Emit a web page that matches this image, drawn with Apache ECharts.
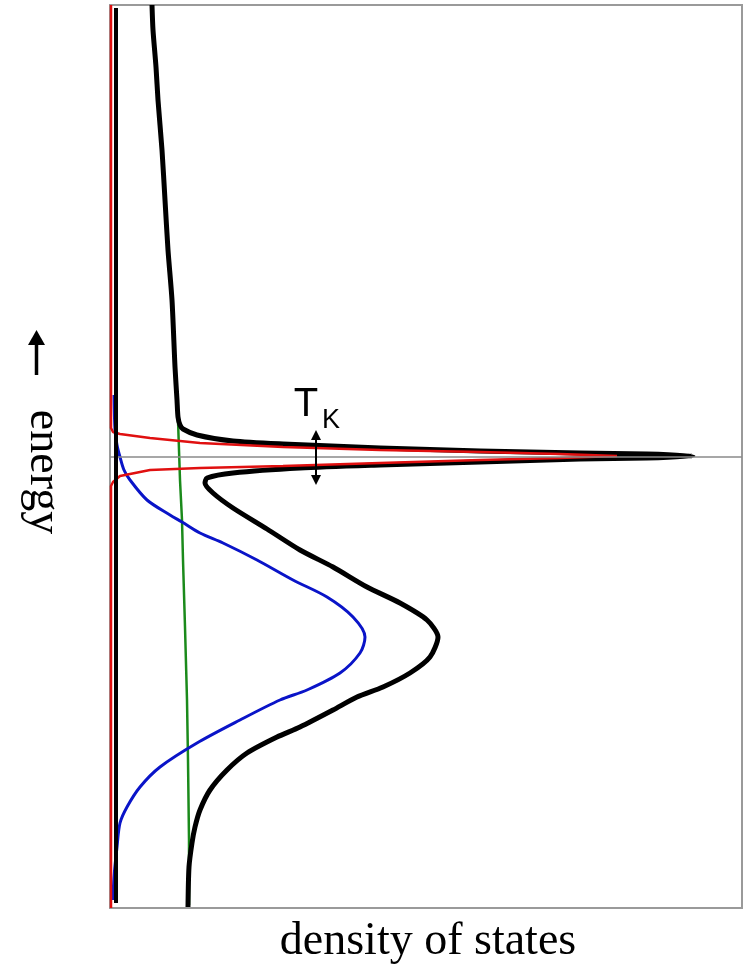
<!DOCTYPE html>
<html>
<head>
<meta charset="utf-8">
<script src="https://cdn.jsdelivr.net/npm/echarts@6/dist/echarts.min.js"></script>
<style>
  html, body { margin: 0; padding: 0; background: #fff; }
  #chart { width: 743px; height: 973px; }
</style>
</head>
<body>
<div id="chart"></div>
<script>
// energy (y) and density of states (x), arbitrary units
// total spectral function (thick black)
const totalEnergy = [45.2, 42.7, 39.0, 35.7, 30.7, 25.7, 20.7, 15.7, 9.0, 5.7, 4.0, 3.2, 2.8, 2.2, 1.6, 1.3, 0.9, 0.6, 0.4, 0.3, 0.1,
  -0.1, -0.2, -0.5, -0.8, -1.1, -1.6, -2.1, -2.6, -3.6, -5.1, -7.2, -9.3, -11.0, -13.0, -14.6, -16.3, -18.0, -20.0, -21.6,
  -23.0, -24.0, -25.3, -27.0, -28.0, -29.6, -31.3, -33.3, -35.3, -37.0, -38.6, -41.0, -45.0]
const totalDos = [4.2, 4.3, 4.6, 4.8, 5.2, 5.5, 5.8, 6.2, 6.5, 6.7, 6.8, 7.0, 7.3, 8.7, 12.3, 17.3, 27.0, 37.0, 47.0, 53.7, 58.3,
  53.7, 47.0, 37.0, 27.0, 19.0, 12.3, 9.7, 9.5, 10.3, 12.3, 15.7, 19.0, 22.3, 25.7, 29.0, 31.7, 32.8, 32.0, 30.0,
  27.3, 24.7, 22.3, 19.0, 16.7, 13.7, 11.7, 10.0, 9.0, 8.5, 8.2, 7.9, 7.8]

// Kondo resonance (red)
const kondoEnergy = [45.2, 2.9, 2.5, 2.3, 1.9, 1.4, 1.0, 0.7, 0.5, 0.3, 0.1, -0.1, -0.3, -0.6, -0.9, -1.1, -1.3, -1.9, -2.5, -2.9, -45.1]
const kondoDos = [0.1, 0.1, 0.3, 1.0, 4.0, 9.0, 17.3, 27.0, 37.0, 45.0, 50.7, 45.0, 37.0, 27.0, 17.3, 9.0, 4.0, 1.0, 0.3, 0.1, 0.1]

// lower band (blue)
const bandEnergy = [6.2, 2.7, 1.2, 0.0, -1.3, -2.3, -4.3, -5.8, -6.5, -7.6, -8.6, -10.3, -12.3, -14.0, -16.0, -18.0, -19.6,
  -21.6, -23.3, -24.3, -26.3, -28.6, -31.0, -33.0, -35.0, -36.6, -39.0, -42.0, -44.3]
const bandDos = [0.4, 0.5, 0.7, 1.0, 1.4, 2.0, 3.7, 6.0, 7.2, 9.0, 11.3, 14.7, 18.3, 21.7, 24.3, 25.5, 25.0,
  23.0, 19.7, 17.0, 13.0, 8.7, 5.0, 3.0, 1.7, 1.0, 0.7, 0.4, 0.3]

// conduction background (green)
const bgEnergy = [3.7, -2.3, -6.3, -10.3, -17.0, -24.3, -30.3, -38.3, -44.8]
const bgDos = [6.8, 7.0, 7.2, 7.3, 7.5, 7.7, 7.8, 7.9, 7.9]

// zero reference (black vertical)
const baseEnergy = [44.9, -44.6]
const baseDos = [0.6, 0.6]

// Kondo width arrow
const tkDos = 20.6
const tkEnergy = [2.2, -2.3]

const pairs = (xs, ys) => xs.map((x, i) => [x, ys[i]])

const chart = echarts.init(document.getElementById('chart'))

chart.setOption({
  animation: false,
  grid: {
    left: 110, top: 5, right: 1, bottom: 65,
    show: true, borderColor: '#9a9a9a', borderWidth: 2, backgroundColor: '#fff'
  },
  xAxis: {
    type: 'value', min: 0, max: 63.2,
    axisLine: { show: false }, axisTick: { show: false }, axisLabel: { show: false }, splitLine: { show: false }
  },
  yAxis: {
    type: 'value', min: -45.1, max: 45.2,
    axisLine: { show: false }, axisTick: { show: false }, axisLabel: { show: false }, splitLine: { show: false }
  },
  series: [
    {
      name: 'background', type: 'line', symbol: 'none', z: 1,
      data: pairs(bgDos, bgEnergy),
      lineStyle: { color: '#1b8a1b', width: 2.5 }
    },
    {
      name: 'band', type: 'line', symbol: 'none', z: 2, smooth: 0.3,
      data: pairs(bandDos, bandEnergy),
      lineStyle: { color: '#0a14c8', width: 3 }
    },
    {
      name: 'total', type: 'line', symbol: 'none', z: 3, smooth: 0.25,
      data: pairs(totalDos, totalEnergy),
      lineStyle: { color: '#000', width: 5, join: 'round' },
      markLine: {
        silent: true, symbol: 'none', label: { show: false },
        lineStyle: { color: '#8a8a8a', width: 1.5, type: 'solid' },
        data: [{ yAxis: 0 }]
      }
    },
    {
      name: 'kondo', type: 'line', symbol: 'none', z: 4,
      data: pairs(kondoDos, kondoEnergy),
      lineStyle: { color: '#e01010', width: 2.5 }
    },
    {
      name: 'base', type: 'line', symbol: 'none', z: 5,
      data: pairs(baseDos, baseEnergy),
      lineStyle: { color: '#000', width: 4 },
      markLine: {
        silent: true, symbol: ['triangle', 'triangle'], symbolSize: [10, 10], label: { show: false },
        lineStyle: { color: '#000', width: 2, type: 'solid' },
        data: [[{ coord: [tkDos, tkEnergy[0]] }, { coord: [tkDos, tkEnergy[1]] }]]
      }
    }
  ],
  graphic: [
    {
      type: 'text', x: 306, y: 405,
      style: { text: 'T', font: '40px "Liberation Sans", Arial, sans-serif', fill: '#000', align: 'center', verticalAlign: 'middle' }
    },
    {
      type: 'text', x: 331, y: 421,
      style: { text: 'K', font: '27px "Liberation Sans", Arial, sans-serif', fill: '#000', align: 'center', verticalAlign: 'middle' }
    },
    {
      type: 'text', x: 43, y: 472, rotation: -Math.PI / 2,
      style: { text: 'energy', font: '46px "Liberation Serif", "Times New Roman", serif', fill: '#000', align: 'center', verticalAlign: 'middle' }
    },
    {
      type: 'line', shape: { x1: 36.5, y1: 375, x2: 36.5, y2: 342 },
      style: { stroke: '#000', lineWidth: 3.5 }
    },
    {
      type: 'polygon', shape: { points: [[28, 345], [45, 345], [36.5, 330]] },
      style: { fill: '#000' }
    },
    {
      type: 'text', x: 428, y: 942,
      style: { text: 'density of states', font: '46px "Liberation Serif", "Times New Roman", serif', fill: '#000', align: 'center', verticalAlign: 'middle' }
    }
  ]
})
</script>
</body>
</html>
